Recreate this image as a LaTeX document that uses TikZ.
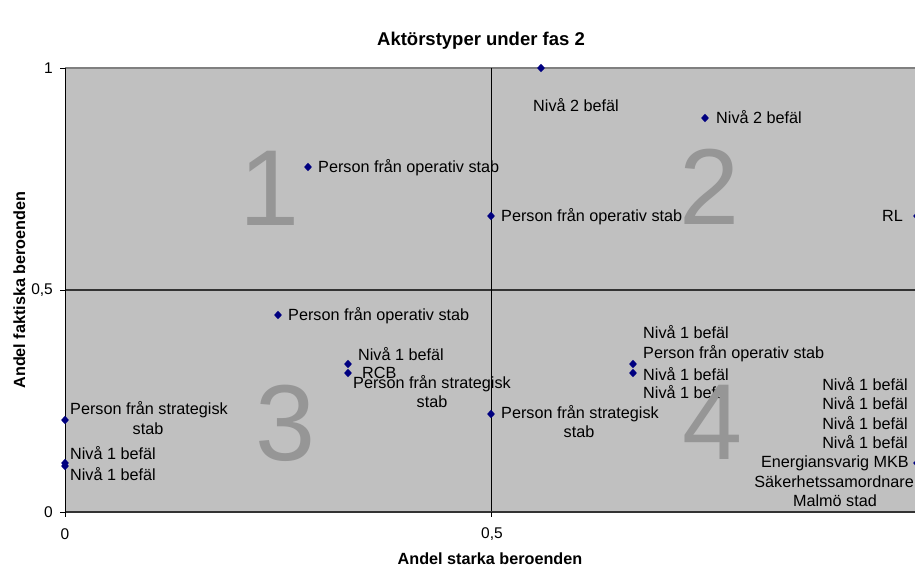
\documentclass[tikz,border=0pt]{standalone}
\usepackage{fontspec}
\setmainfont{Liberation Sans}
\usetikzlibrary{shapes.geometric}
\definecolor{plotbg}{HTML}{C0C0C0}
\definecolor{digitgray}{HTML}{969696}
\definecolor{navy}{HTML}{000080}
\definecolor{framegray}{HTML}{808080}
\begin{document}
\begin{tikzpicture}[x=1pt,y=-1pt,
  lbl/.style={font=\fontsize{16.2}{19}\selectfont, inner sep=0pt, anchor=base west},
  lblr/.style={lbl, anchor=base east},
  lblc/.style={lbl, anchor=base},
  ticklbl/.style={font=\fontsize{15.5}{18}\selectfont, inner sep=0pt},
  axtitle/.style={font=\bfseries\fontsize{16.2}{19}\selectfont, inner sep=0pt},
  bignum/.style={font=\fontsize{108}{108}\selectfont, text=digitgray, inner sep=0pt, anchor=base west},
  dot/.style={shape=diamond, fill=navy, draw=none, inner sep=0pt, minimum width=8pt, minimum height=8.5pt}]
\useasboundingbox (0,0) rectangle (915,566);
\clip (0,0) rectangle (915,566);

% plot area, frame and grid
\fill[plotbg] (65,68) rectangle (920,512);
\draw[framegray, line width=1.2pt] (65,68) -- (920,68);
\draw[black!80, line width=1.2pt] (65,290) -- (920,290);
\draw[black, line width=0.9pt] (491,68) -- (491,512);
\draw[black!80, line width=1.6pt] (65,512) -- (920,512);
\draw[black, line width=0.9pt] (65,68) -- (65,517);
\foreach \yy in {68,290,512} \draw[black, line width=0.9pt] (60,\yy) -- (65,\yy);
\draw[black, line width=0.9pt] (491,512) -- (491,517);

% axis numbers
\node[ticklbl, anchor=east] (y1) at (53,68) {1};
\node[ticklbl, anchor=east] (y05) at (53,290) {0,5};
\node[ticklbl, anchor=east] (y0) at (53,512) {0};
\node[ticklbl] (x0) at (65,534) {0};
\node[ticklbl] (x05) at (492,534) {0,5};

% titles
\node[font=\bfseries\fontsize{18.5}{21}\selectfont, inner sep=0pt, anchor=base] (title) at (481,45) {Aktörstyper under fas 2};
\node[axtitle, anchor=base] (xtitle) at (490,564) {Andel starka beroenden};
\node[axtitle, anchor=base, rotate=90] (ytitle) at (25,290) {Andel faktiska beroenden};

% data points
\node[dot] (pa) at (541,68) {};
\node[dot] (pb) at (705,118) {};
\node[dot] (pc) at (308,167) {};
\node[dot] (pd) at (491,216) {};
\node[dot] (pe) at (917,216) {};
\node[dot] (pf) at (278,315) {};
\node[dot] (pg) at (348,364) {};
\node[dot] (ph) at (348,373) {};
\node[dot] (pi) at (65,420) {};
\node[dot] (pj) at (65,463) {};
\node[dot] (pk) at (65,466) {};
\node[dot] (pl) at (491,414) {};
\node[dot] (pm) at (633,364) {};
\node[dot] (pn) at (633,373) {};
\node[dot] (po) at (917,463) {};

% point labels
\node[lbl] (la) at (533,111) {Nivå 2 befäl};
\node[lbl] (lb) at (716,123) {Nivå 2 befäl};
\node[lbl] (lc) at (318,172) {Person från operativ stab};
\node[lbl] (ld) at (501,221) {Person från operativ stab};
\node[lblr] (le) at (903,221) {RL};
\node[lbl] (lf) at (288,320) {Person från operativ stab};
\node[lbl] (lg) at (358,360) {Nivå 1 befäl};
\node[lbl] (lh) at (362,378) {RCB};
\node[lblc] (li1) at (432,388) {Person från strategisk};
\node[lblc] (li2) at (432,407) {stab};
\node[lbl] (lj1) at (70,414) {Person från strategisk};
\node[lblc] (lj2) at (148,434) {stab};
\node[lbl] (lk) at (70,459) {Nivå 1 befäl};
\node[lbl] (ll) at (70,480) {Nivå 1 befäl};
\node[lbl] (lm1) at (501,418) {Person från strategisk};
\node[lblc] (lm2) at (579,437) {stab};
\node[lbl] (ln) at (643,338) {Nivå 1 befäl};
\node[lbl] (lo) at (643,358) {Person från operativ stab};
\node[lbl] (lp) at (643,380) {Nivå 1 befäl};
\node[lbl] (lq) at (643,398) {Nivå 1 befäl};
\node[lblr] (lr) at (908,390) {Nivå 1 befäl};
\node[lblr] (ls) at (908,409) {Nivå 1 befäl};
\node[lblr] (lt) at (908,429) {Nivå 1 befäl};
\node[lblr] (lu) at (908,448) {Nivå 1 befäl};
\node[lblr] (lv) at (909,467) {Energiansvarig MKB};
\node[lblr] (lw) at (914,487) {Säkerhetssamordnare};
\node[lblc] (lx) at (835,506) {Malmö stad};

% quadrant numbers
\node[bignum] (q1) at (239,225) {1};
\node[bignum] (q2) at (679,224) {2};
\node[bignum] (q3) at (255,460) {3};
\node[bignum] (q4) at (682,459) {4};
\end{tikzpicture}
\end{document}
